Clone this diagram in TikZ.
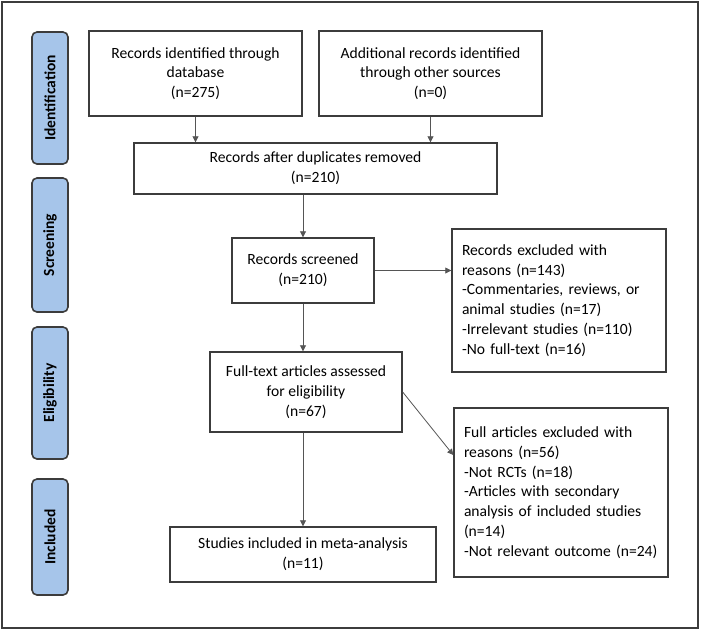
\documentclass[tikz,border=0pt]{standalone}
\usepackage{fontspec}
\setmainfont{Carlito}
\usetikzlibrary{arrows.meta,calc}

\definecolor{stageblue}{RGB}{166,197,234}
\definecolor{edgegray}{RGB}{60,60,60}
\definecolor{arrowgray}{RGB}{85,85,85}

\tikzset{
  stage/.style={draw=edgegray, line width=1.6pt, fill=stageblue, rounded corners=5pt,
    rotate=90, minimum height=36pt, inner sep=0pt, font=\fontsize{15.5}{18}\selectfont\bfseries},
  flowbox/.style={draw=edgegray, line width=1.4pt, align=center, inner sep=0pt,
    font=\fontsize{15.6}{19.8}\selectfont},
  listbox/.style={flowbox, align=left, text width=194pt, inner xsep=10pt},
  flowarrow/.style={draw=arrowgray, line width=0.8pt, -{Triangle[length=6pt,width=6pt]}}
}

\begin{document}
\begin{tikzpicture}[x=1pt,y=-1pt]
\useasboundingbox (0,0) rectangle (701,630);
\draw[edgegray,line width=2pt] (2,2) rectangle (698,628);
% stage labels down the left side
\node[stage, minimum width=132pt] (ident) at (50,98) {Identification};
\node[stage, minimum width=134pt] (screen) at (50,245) {Screening};
\node[stage, minimum width=132pt] (elig) at (50,393) {Eligibility};
\node[stage, minimum width=116pt] (incl) at (50,537) {Included};
% flow boxes
\node[flowbox, minimum width=213pt, minimum height=85pt] (dbrec) at (195.5,73.5)
  {Records identified through\\database\\(n=275)};
\node[flowbox, minimum width=223pt, minimum height=85pt] (otherrec) at (430.5,73.5)
  {Additional records identified\\through other sources\\(n=0)};
\node[flowbox, minimum width=363pt, minimum height=51pt] (dedup) at (315.5,168.5)
  {Records after duplicates removed\\(n=210)};
\node[flowbox, minimum width=142pt, minimum height=65pt] (screened) at (303,270.5)
  {Records screened\\(n=210)};
\node[listbox, minimum height=143pt] (excl) at (559,300.5)
  {Records excluded with\\reasons (n=143)\\-Commentaries, reviews, or\\animal studies (n=17)\\-Irrelevant studies (n=110)\\-No full-text (n=16)};
\node[flowbox, minimum width=192pt, minimum height=80pt] (fulltext) at (306,392)
  {Full-text articles assessed\\for eligibility\\(n=67)};
\node[listbox, minimum height=169pt] (fullexcl) at (561,492.5)
  {Full articles excluded with\\reasons (n=56)\\-Not RCTs (n=18)\\-Articles with secondary\\analysis of included studies\\(n=14)\\-Not relevant outcome (n=24)};
\node[flowbox, minimum width=266pt, minimum height=55pt] (studies) at (303,554.5)
  {Studies included in meta-analysis\\(n=11)};
\coordinate (fullin) at ($(fullexcl.north west)!0.28!(fullexcl.south west)$);
% connectors
\draw[flowarrow] (dbrec.south) -- (dbrec.south |- dedup.north);
\draw[flowarrow] (otherrec.south) -- (otherrec.south |- dedup.north);
\draw[flowarrow] (screened.north |- dedup.south) -- (screened.north);
\draw[flowarrow] (screened.east) -- (screened.east -| excl.west);
\draw[flowarrow] (screened.south) -- (screened.south |- fulltext.north);
\draw[flowarrow] (fulltext.east) -- (fullin);
\draw[flowarrow] (studies.north |- fulltext.south) -- (studies.north);
\end{tikzpicture}
\end{document}
